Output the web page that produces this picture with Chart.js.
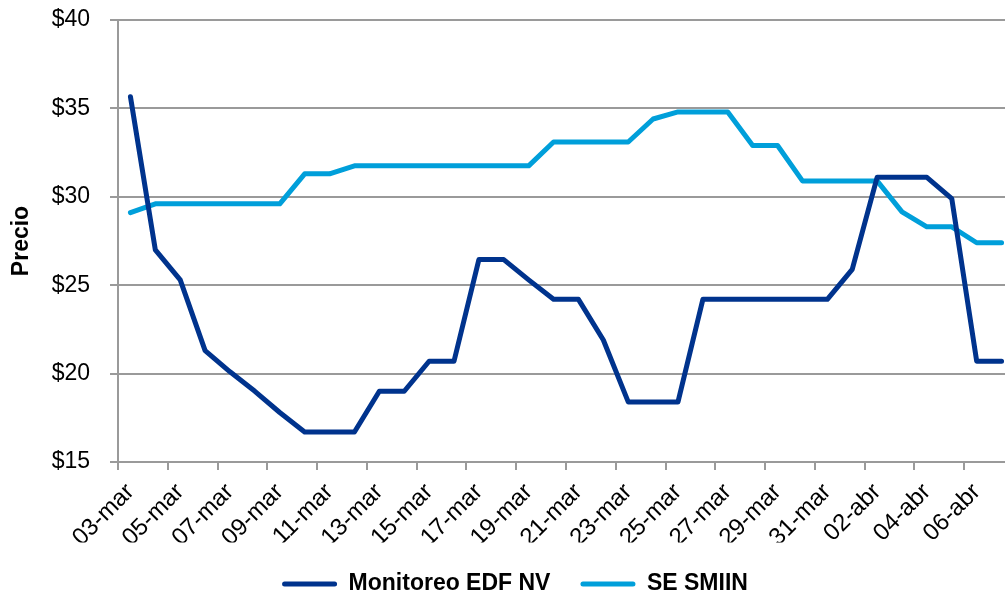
<!DOCTYPE html>
<html>
<head>
<meta charset="utf-8">
<script src="https://cdn.jsdelivr.net/npm/chart.js@4.4.1/dist/chart.umd.min.js"></script>
<style>
html, body { margin: 0; padding: 0; overflow: hidden; background: #ffffff; }
canvas { display: block; }
</style>
</head>
<body>
<canvas id="c" width="1014" height="594"></canvas>
<script>
const categories = [
  '03-mar','04-mar','05-mar','06-mar','07-mar','08-mar','09-mar','10-mar','11-mar','12-mar',
  '13-mar','14-mar','15-mar','16-mar','17-mar','18-mar','19-mar','20-mar','21-mar','22-mar',
  '23-mar','24-mar','25-mar','26-mar','27-mar','28-mar','29-mar','30-mar','31-mar','01-abr',
  '02-abr','03-abr','04-abr','05-abr','06-abr','07-abr'
];
const monitoreoEDF = [
  35.66, 27.0, 25.3, 21.3, 20.1, 19.0, 17.8, 16.7, 16.7, 16.7,
  19.0, 19.0, 20.7, 20.7, 26.45, 26.45, 25.3, 24.2, 24.2, 21.9,
  18.4, 18.4, 18.4, 24.2, 24.2, 24.2, 24.2, 24.2, 24.2, 25.9,
  31.1, 31.1, 31.1, 29.9, 20.7, 20.7
];
const seSmiin = [
  29.1, 29.6, 29.6, 29.6, 29.6, 29.6, 29.6, 31.3, 31.3, 31.75,
  31.75, 31.75, 31.75, 31.75, 31.75, 31.75, 31.75, 33.1, 33.1, 33.1,
  33.1, 34.4, 34.8, 34.8, 34.8, 32.9, 32.9, 30.9, 30.9, 30.9,
  30.9, 29.15, 28.3, 28.3, 27.4, 27.4
];
const seriesNames = ['Monitoreo EDF NV', 'SE SMIIN'];
const yTicks = [15, 20, 25, 30, 35, 40];
const yTitle = 'Precio';

const DARK = '#00338D';
const LIGHT = '#009FDA';
const GRID = '#9a9a9a';
const FONT = "'Liberation Sans', Arial, Helvetica, sans-serif";

new Chart(document.getElementById('c'), {
  type: 'line',
  data: {
    labels: categories,
    datasets: [
      {
        label: seriesNames[0], data: monitoreoEDF,
        borderColor: DARK, backgroundColor: DARK, borderWidth: 5,
        pointRadius: 0, tension: 0, borderCapStyle: 'round', borderJoinStyle: 'round'
      },
      {
        label: seriesNames[1], data: seSmiin,
        borderColor: LIGHT, backgroundColor: LIGHT, borderWidth: 5,
        pointRadius: 0, tension: 0, borderCapStyle: 'round', borderJoinStyle: 'round'
      }
    ]
  },
  options: {
    responsive: false,
    animation: false,
    devicePixelRatio: 1,
    layout: { padding: { top: 20, left: 16, right: 0, bottom: -11.5 } },
    plugins: {
      tooltip: { enabled: false },
      legend: {
        position: 'bottom',
        labels: {
          boxWidth: 55, boxHeight: 5, padding: 30,
          color: '#000000',
          font: { family: FONT, size: 23, weight: 'bold' },
          generateLabels: (chart) => chart.data.datasets.map((ds, i) => ({
            text: ds.label, fillStyle: ds.borderColor, strokeStyle: ds.borderColor,
            lineWidth: 0, borderRadius: 2.5, hidden: false, datasetIndex: i, fontColor: '#000000'
          }))
        }
      }
    },
    scales: {
      x: {
        type: 'category',
        offset: true,
        grid: {
          offset: true, drawOnChartArea: false, drawTicks: true, tickLength: 8,
          lineWidth: 2,
          color: (ctx) => (ctx.index % 2 === 0 ? GRID : 'rgba(0,0,0,0)')
        },
        border: { display: true, color: GRID, width: 2 },
        ticks: {
          autoSkip: false, minRotation: 45, maxRotation: 45, padding: 8,
          color: '#000000', font: { family: FONT, size: 24 },
          callback: function (value, index) { return index % 2 === 0 ? this.getLabelForValue(value) : ''; }
        },
        afterFit: (scale) => { scale.height = 80.5; scale.paddingLeft = 0; scale.paddingRight = 0; }
      },
      y: {
        min: 15, max: 40,
        afterBuildTicks: (scale) => { scale.ticks = yTicks.map(v => ({ value: v })); },
        grid: { color: GRID, lineWidth: 2, tickLength: 8, drawTicks: true },
        border: { display: true, color: GRID, width: 2 },
        ticks: {
          padding: 20, color: '#000000', font: { family: FONT, size: 23 },
          callback: (v) => '$' + v
        },
        title: {
          display: true, text: yTitle, color: '#000000',
          font: { family: FONT, size: 23, weight: 'bold', lineHeight: 1 },
          padding: { top: -5.5, bottom: 0 }
        },
        afterFit: (scale) => { scale.width = 102; scale.paddingTop = 0; scale.paddingBottom = 0; }
      }
    }
  }
});
</script>
</body>
</html>
